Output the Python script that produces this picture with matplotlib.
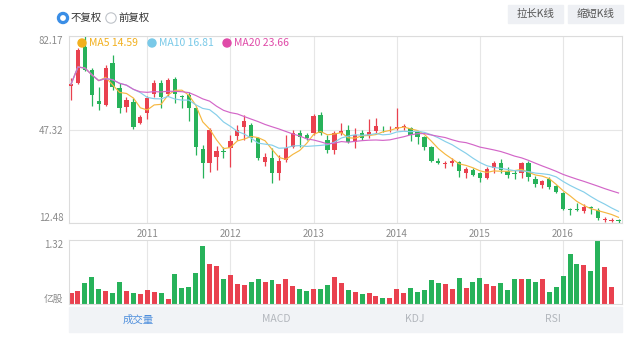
import matplotlib
matplotlib.use('Agg')
import matplotlib.pyplot as plt
import numpy as np
import pandas as pd
from matplotlib.patches import Circle, Rectangle

plt.rcParams['font.family'] = ['Noto Sans CJK SC', 'DejaVu Sans']

# monthly K-line, Feb 2010 .. Sep 2016
months = pd.date_range('2010-02-01', periods=80, freq='MS')

opens = [
    63.5, 64.7, 78.1, 69.5, 58.0, 56.4, 72.1, 62.8, 55.7, 57.6,
    49.7, 53.5, 60.6, 64.7, 60.6, 66.2, 59.8, 60.2, 55.3, 40.1,
    34.8, 37.1, 39.3, 40.4, 45.0, 48.3, 49.0, 44.2, 35.2, 36.7,
    31.1, 36.0, 40.8, 46.0, 45.3, 46.0, 52.7, 43.4, 39.7, 46.0,
    47.1, 42.7, 46.0, 45.3, 46.8, 48.0, 47.7, 47.5, 48.3, 47.9,
    46.4, 44.5, 40.8, 35.6, 34.5, 35.0, 35.2, 31.1, 32.2, 31.1,
    29.1, 32.9, 34.7, 31.7, 31.0, 31.0, 34.7, 28.7, 26.5, 28.8,
    26.3, 23.7, 17.6, 17.6, 17.0, 18.2, 17.3, 13.7, 13.4, 13.4,
]
closes = [
    64.2, 77.0, 69.5, 60.2, 56.8, 70.2, 63.2, 55.3, 58.3, 48.3,
    52.0, 59.1, 64.7, 59.4, 65.8, 60.6, 59.4, 55.3, 40.8, 34.8,
    47.1, 39.3, 38.9, 43.0, 47.1, 50.5, 44.2, 36.7, 37.1, 31.1,
    35.6, 40.4, 46.0, 44.5, 44.2, 52.3, 46.0, 39.7, 46.0, 46.8,
    42.7, 45.3, 44.2, 46.4, 48.6, 47.7, 48.0, 48.3, 48.6, 45.3,
    44.5, 40.8, 35.6, 34.8, 34.8, 35.6, 31.9, 32.6, 30.4, 29.2,
    32.5, 34.7, 32.1, 30.2, 30.6, 34.7, 29.5, 26.9, 28.0, 25.9,
    24.1, 17.7, 17.4, 17.4, 18.55, 18.0, 14.2, 13.9, 13.6, 13.25,
]
highs = [
    66.5, 77.7, 82.17, 70.2, 63.2, 71.4, 75.1, 64.7, 59.4, 59.1,
    52.7, 59.8, 65.8, 65.8, 66.5, 66.9, 60.2, 61.3, 55.7, 41.5,
    47.9, 41.2, 40.8, 45.3, 49.0, 52.7, 49.8, 44.5, 38.6, 40.4,
    37.8, 45.3, 47.1, 47.1, 46.0, 53.1, 53.9, 45.3, 46.8, 49.8,
    49.0, 47.9, 47.1, 51.2, 51.7, 48.6, 48.6, 55.3, 49.4, 48.3,
    46.8, 45.0, 41.2, 36.7, 35.6, 36.7, 35.6, 33.4, 33.0, 31.5,
    33.2, 35.5, 36.2, 33.2, 32.1, 35.1, 35.5, 29.9, 28.4, 29.6,
    26.7, 24.0, 18.0, 20.0, 19.6, 18.8, 18.0, 14.9, 14.5, 14.1,
]
lows = [
    58.3, 64.3, 69.0, 56.1, 54.6, 56.1, 62.0, 53.5, 53.9, 47.5,
    49.3, 51.3, 59.4, 55.3, 59.8, 57.2, 55.3, 50.5, 37.8, 29.2,
    31.5, 32.2, 36.7, 33.4, 43.4, 43.4, 42.7, 36.0, 33.7, 27.4,
    28.5, 35.2, 40.4, 40.8, 43.4, 45.3, 45.3, 38.6, 38.2, 45.3,
    42.3, 40.4, 43.4, 44.2, 46.0, 46.4, 46.4, 47.1, 47.1, 43.0,
    41.9, 39.7, 35.2, 34.5, 33.0, 33.7, 29.6, 29.2, 30.0, 27.8,
    28.7, 31.0, 31.0, 29.4, 28.7, 29.1, 28.0, 25.8, 25.4, 25.1,
    23.7, 17.3, 15.4, 17.0, 16.2, 15.8, 13.6, 12.8, 12.9, 12.48,
]
# volume, 亿股
volumes = [
    0.22, 0.27, 0.43, 0.56, 0.30, 0.27, 0.22, 0.46, 0.27, 0.22,
    0.20, 0.29, 0.24, 0.22, 0.10, 0.61, 0.32, 0.35, 0.64, 1.20,
    0.83, 0.78, 0.52, 0.59, 0.41, 0.39, 0.46, 0.52, 0.45, 0.50,
    0.41, 0.52, 0.37, 0.31, 0.27, 0.30, 0.30, 0.39, 0.55, 0.43,
    0.29, 0.24, 0.20, 0.22, 0.17, 0.13, 0.13, 0.31, 0.22, 0.32,
    0.25, 0.29, 0.50, 0.43, 0.41, 0.31, 0.53, 0.32, 0.46, 0.53,
    0.41, 0.38, 0.43, 0.29, 0.52, 0.51, 0.51, 0.46, 0.51, 0.25,
    0.36, 0.58, 1.03, 0.83, 0.81, 0.68, 1.32, 0.77, 0.36, 0.01,
]
ma_windows = [5, 10, 20]
tabs = ['成交量', 'MACD', 'KDJ', 'RSI']

RED = '#e9414f'
GREEN = '#27b25a'
MA_COLORS = ['#f6b740', '#86cfea', '#d366c8']
MA_TEXT = ['#f2b01e', '#79c9e8', '#e04aa8']
GRID = '#e6e6e6'
LABEL = '#8a8a8a'

W, H = 640, 344


def box(x0, y0, x1, y1):
    return [x0 / W, 1 - y1 / H, (x1 - x0) / W, (y1 - y0) / H]


def fmt(v):
    # two decimals, truncated
    return '%.2f' % (np.floor(v * 100 + 1e-6) / 100)


o = np.array(opens)
c = np.array(closes)
hi = np.array(highs)
lo = np.array(lows)
vol = np.array(volumes)
x = np.arange(len(c))
colors = np.where(c >= o, RED, GREEN)
ymin, ymax = lo.min(), hi.max()
years = [i for i, d in enumerate(months) if d.month == 1]
year_labels = [str(months[i].year) for i in years]

fig = plt.figure(figsize=(W / 100, H / 100), dpi=100)
ax = fig.add_axes(box(69, 36, 622, 223))
axv = fig.add_axes(box(69, 240, 622, 304))

# candles
ax.vlines(x, lo, hi, colors=colors, lw=0.9, zorder=2)
ax.bar(x, np.maximum(np.abs(c - o), 0.3), bottom=np.minimum(o, c),
       width=0.62, color=colors, linewidth=0, zorder=3)

mas = []
for w, col in zip(ma_windows, MA_COLORS):
    ma = pd.Series(c).rolling(w, min_periods=1).mean()
    mas.append(ma.iloc[-1])
    ax.plot(x, ma, color=col, lw=0.85, zorder=4)

for a in (ax, axv):
    a.set_xlim(-0.29, 79.5)
    a.set_xticks(years)
    a.grid(axis='x', color=GRID, lw=0.8)
    a.set_axisbelow(True)
    for s in a.spines.values():
        s.set_color('#dcdcdc')
        s.set_linewidth(0.8)
    a.tick_params(length=0, labelsize=7, labelcolor=LABEL)

ax.set_ylim(ymin, ymax)
mid = (ymin + ymax) / 2
ax.set_yticks([ymin, mid, ymax])
ax.set_yticklabels([fmt(v) for v in (ymin, mid, ymax)])
ax.grid(axis='y', color=GRID, lw=0.8)
yl = ax.get_yticklabels()
yl[0].set_va('bottom')
yl[2].set_va('top')
ax.set_xticklabels(year_labels)
ax.tick_params(axis='x', pad=4)
ax.tick_params(axis='y', pad=4)

# volume
axv.bar(x, vol, width=0.72, color=colors, linewidth=0)
axv.set_ylim(0, vol.max())
axv.set_yticks([0, vol.max()])
axv.set_yticklabels(['亿股', fmt(vol.max())])
vl = axv.get_yticklabels()
vl[0].set_va('bottom')
vl[1].set_va('top')
axv.set_xticklabels([])
axv.tick_params(axis='y', pad=4)

# page furniture in pixel coordinates
ov = fig.add_axes([0, 0, 1, 1])
ov.set_xlim(0, W)
ov.set_ylim(H, 0)
ov.axis('off')
ov.patch.set_alpha(0)

ov.add_patch(Circle((63, 18), 5.5, color='#3a8ee6'))
ov.add_patch(Circle((63, 18), 2.2, color='white'))
ov.text(71, 18, '不复权', fontsize=7.5, color='#333333', va='center')
ov.add_patch(Circle((111, 18), 5.2, fc='white', ec='#bfc3c9', lw=0.8))
ov.text(118, 18, '前复权', fontsize=7.5, color='#333333', va='center')

for bx, label in [(508, '拉长K线'), (568, '缩短K线')]:
    ov.add_patch(Rectangle((bx, 5), 55, 18, color='#eef0f4'))
    ov.text(bx + 27.5, 14, label, fontsize=7.5, color='#555555',
            ha='center', va='center')

lx = [82, 152, 227]
for i, (w, v) in enumerate(zip(ma_windows, mas)):
    ov.add_patch(Circle((lx[i], 43), 4, color=MA_TEXT[i]))
    ov.text(lx[i] + 7, 43, 'MA%d %.2f' % (w, v), fontsize=7.5,
            color=MA_TEXT[i], va='center')

ov.add_patch(Rectangle((69, 307), 553, 25, color='#f1f3f6'))
tw = 553 / len(tabs)
for i, t in enumerate(tabs):
    ov.text(69 + tw * (i + 0.5), 319.5, t, fontsize=7.5,
            color='#4f8fdc' if i == 0 else '#b3b7bd', ha='center', va='center')

fig.savefig('out.png', dpi=100)
